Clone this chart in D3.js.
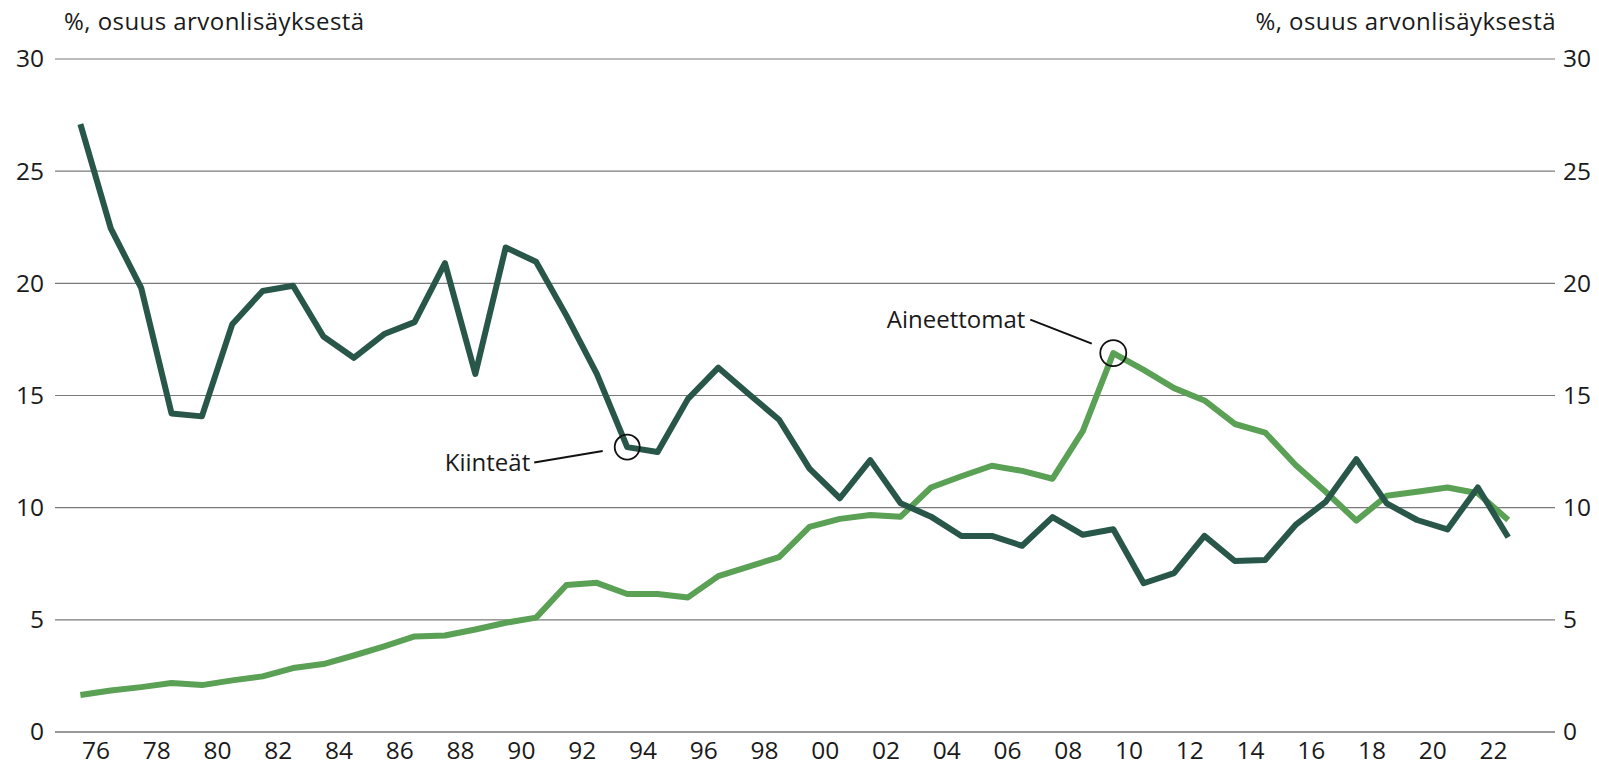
<!DOCTYPE html>
<html>
<head>
<meta charset="utf-8">
<script src="https://cdn.jsdelivr.net/npm/d3@7"></script>
<style>
  html, body { margin: 0; padding: 0; background: #fff; }
  svg { display: block; }
  text { font-family: "Open Sans", "Noto Sans", sans-serif; fill: #1a1a1a; }
</style>
</head>
<body>
<svg id="chart" width="1599" height="766"></svg>
<script>
// ---- data ----
const years = d3.range(1975, 2023);
const kiinteat = [27.1, 22.45, 19.8, 14.2, 14.07, 18.18, 19.66, 19.89, 17.63, 16.68,
  17.74, 18.27, 20.9, 15.96, 21.6, 20.96, 18.56, 15.96, 12.7, 12.48,
  14.85, 16.24, 15.07, 13.92, 11.74, 10.42, 12.12, 10.2, 9.6, 8.74,
  8.74, 8.3, 9.58, 8.79, 9.04, 6.63, 7.08, 8.74, 7.62, 7.67,
  9.23, 10.27, 12.16, 10.19, 9.45, 9.03, 10.9, 8.68];
const aineettomat = [1.65, 1.85, 2.0, 2.18, 2.09, 2.3, 2.48, 2.85, 3.03, 3.41,
  3.82, 4.26, 4.3, 4.57, 4.87, 5.1, 6.55, 6.65, 6.15, 6.15,
  6.0, 6.95, 7.37, 7.8, 9.14, 9.5, 9.67, 9.6, 10.9, 11.4,
  11.87, 11.64, 11.29, 13.42, 16.89, 16.14, 15.33, 14.78, 13.73, 13.35,
  11.9, 10.7, 9.42, 10.53, 10.71, 10.9, 10.64, 9.45];
const yTicks = [0, 5, 10, 15, 20, 25, 30];
const xTickYears = d3.range(1976, 2023, 2);
const axisTitle = "%, osuus arvonlisäyksestä";
const seriesNames = ["Kiinteät", "Aineettomat"];
const annotYears = [1993, 2009];

// ---- layout ----
const svg = d3.select("#chart");
const gridLeft = 55, gridRight = 1555;
const x = d3.scaleLinear().domain([1975, 2023]).range([65.2, 1523.4]);
const y = d3.scaleLinear().domain([0, 30]).range([732, 59]);
const colors = ["#28574a", "#5aa055"];
const fs = "24px";
const fsNum = "24.5px";
const ff = "'Open Sans', 'Noto Sans', sans-serif";

// gridlines
svg.append("g").selectAll("line").data(yTicks).join("line")
  .attr("x1", gridLeft).attr("x2", gridRight)
  .attr("y1", d => y(d)).attr("y2", d => y(d))
  .attr("stroke", d => d === 0 ? "#333" : "#7a7a7a")
  .attr("stroke-width", 1.2);

// y axes
const yl = svg.append("g").attr("transform", `translate(${gridLeft},0)`)
  .call(d3.axisLeft(y).tickValues(yTicks).tickSize(0).tickPadding(11));
const yr = svg.append("g").attr("transform", `translate(${gridRight},0)`)
  .call(d3.axisRight(y).tickValues(yTicks).tickSize(0).tickPadding(8));
[yl, yr].forEach(g => {
  g.select(".domain").remove();
  g.selectAll("text").style("font-size", fsNum).style("font-family", ff).attr("fill", "#1a1a1a");
});

// x axis
const xa = svg.append("g").attr("transform", `translate(0,732)`)
  .call(d3.axisBottom(x).tickValues(xTickYears)
    .tickFormat(d => String(d % 100).padStart(2, "0")).tickSize(0).tickPadding(10));
xa.select(".domain").remove();
xa.selectAll("text").style("font-size", fsNum).style("font-family", ff).attr("fill", "#1a1a1a");

// axis titles
svg.append("text").attr("x", 64).attr("y", 30).style("font-size", fs)
  .style("letter-spacing", "0.45px").text(axisTitle);
svg.append("text").attr("x", 1556).attr("y", 30).attr("text-anchor", "end").style("font-size", fs)
  .style("letter-spacing", "0.45px").text(axisTitle);

// lines
const line = d3.line().x((d, i) => x(years[i] + 0.5)).y(d => y(d)).curve(d3.curveLinear);
[aineettomat, kiinteat].forEach((s, k) => {
  svg.append("path").datum(s).attr("d", line)
    .attr("fill", "none")
    .attr("stroke", k === 0 ? colors[1] : colors[0])
    .attr("stroke-width", 6)
    .attr("stroke-linejoin", "round");
});

// annotations
const aK = annotYears[0], aA = annotYears[1];
const pK = [x(aK + 0.5), y(kiinteat[aK - 1975])];
const pA = [x(aA + 0.5), y(aineettomat[aA - 1975])];
svg.append("circle").attr("cx", pK[0]).attr("cy", pK[1]).attr("r", 12.5)
  .attr("fill", "none").attr("stroke", "#111").attr("stroke-width", 1.8);
svg.append("circle").attr("cx", pA[0]).attr("cy", pA[1]).attr("r", 13)
  .attr("fill", "none").attr("stroke", "#111").attr("stroke-width", 1.8);

svg.append("line").attr("x1", pK[0] - 93).attr("y1", pK[1] + 15.5)
  .attr("x2", pK[0] - 24.5).attr("y2", pK[1] + 4)
  .attr("stroke", "#111").attr("stroke-width", 2);
svg.append("text").attr("x", pK[0] - 97).attr("y", pK[1] + 24).attr("text-anchor", "end")
  .style("font-size", fs).text(seriesNames[0]);

svg.append("line").attr("x1", pA[0] - 83).attr("y1", pA[1] - 33.5)
  .attr("x2", pA[0] - 21.5).attr("y2", pA[1] - 9.5)
  .attr("stroke", "#111").attr("stroke-width", 2);
svg.append("text").attr("x", pA[0] - 88).attr("y", pA[1] - 25).attr("text-anchor", "end")
  .style("font-size", fs).text(seriesNames[1]);
</script>
</body>
</html>
